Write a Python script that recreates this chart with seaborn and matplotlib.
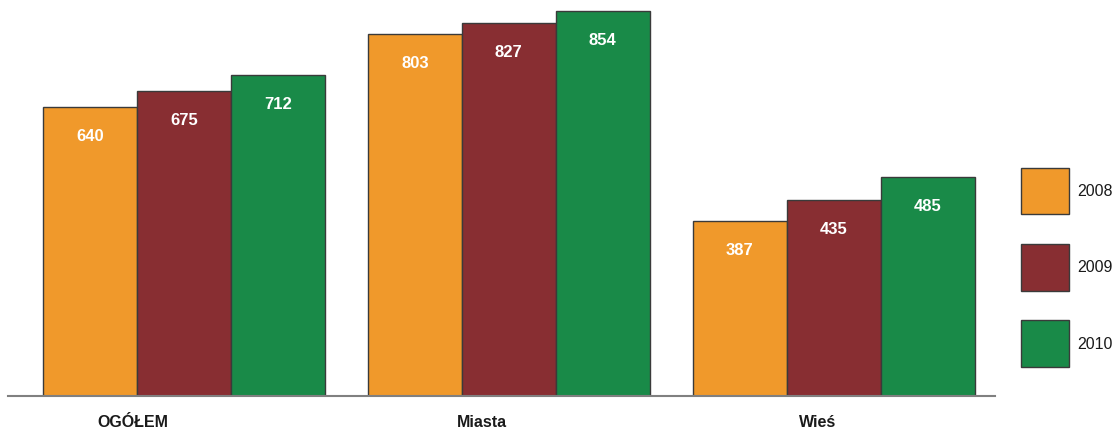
import matplotlib
matplotlib.use("Agg")
import matplotlib.pyplot as plt
from matplotlib.patches import Patch
import seaborn as sns
import pandas as pd

categories = ["OGÓŁEM", "Miasta", "Wieś"]
years = ["2008", "2009", "2010"]
v2008 = [640, 803, 387]
v2009 = [675, 827, 435]
v2010 = [712, 854, 485]
colors = ["#F0992B", "#882E32", "#198A48"]

rows = []
for yr, vals in zip(years, [v2008, v2009, v2010]):
    for c, v in zip(categories, vals):
        rows.append({"cat": c, "year": yr, "val": v})
df = pd.DataFrame(rows)

sns.set_style("white")
plt.rcParams["font.family"] = ["Liberation Sans", "DejaVu Sans"]
plt.rcParams["text.color"] = "#1a1a1a"

fig = plt.figure(figsize=(11.17, 4.31), dpi=100)
ax = fig.add_axes([8/1117, 34/431, 987/1117, 397/431])

sns.barplot(data=df, x="cat", y="val", hue="year", order=categories,
            hue_order=years, palette=colors, width=0.868, ax=ax,
            edgecolor="#3a3a3a", linewidth=1.0, legend=False, errorbar=None,
            saturation=1)

for cont in ax.containers:
    for bar in cont:
        h = bar.get_height()
        ax.annotate(f"{int(round(h))}", (bar.get_x() + bar.get_width()/2, h),
                    xytext=(0, -20.5), textcoords="offset points",
                    ha="center", va="center", color="white",
                    fontsize=12, fontweight="bold")

ax.set_ylim(0, 880)
ax.set_xlim(-0.542, 2.497)
ax.set_yticks([])
ax.set_xticks([-0.157, 0.918, 1.952])
ax.set_xticklabels(categories, fontsize=11.5, fontweight="bold", color="#1a1a1a")
ax.tick_params(axis="x", length=0, pad=13)
ax.set_xlabel("")
ax.set_ylabel("")
for s in ["top", "right", "left"]:
    ax.spines[s].set_visible(False)
ax.spines["bottom"].set_color("#808080")
ax.spines["bottom"].set_linewidth(1.5)

handles = [Patch(facecolor=c, edgecolor="#3a3a3a", linewidth=1.0) for c in colors]
fig.legend(handles, years, loc="upper left",
           bbox_to_anchor=(1021/1117, 1 - 169/431), frameon=False,
           fontsize=11.5, handlelength=3.0, handleheight=4.1,
           labelspacing=1.85, handletextpad=0.5, borderpad=0, borderaxespad=0,
           labelcolor="#1a1a1a")

fig.savefig("out.png", dpi=100)
